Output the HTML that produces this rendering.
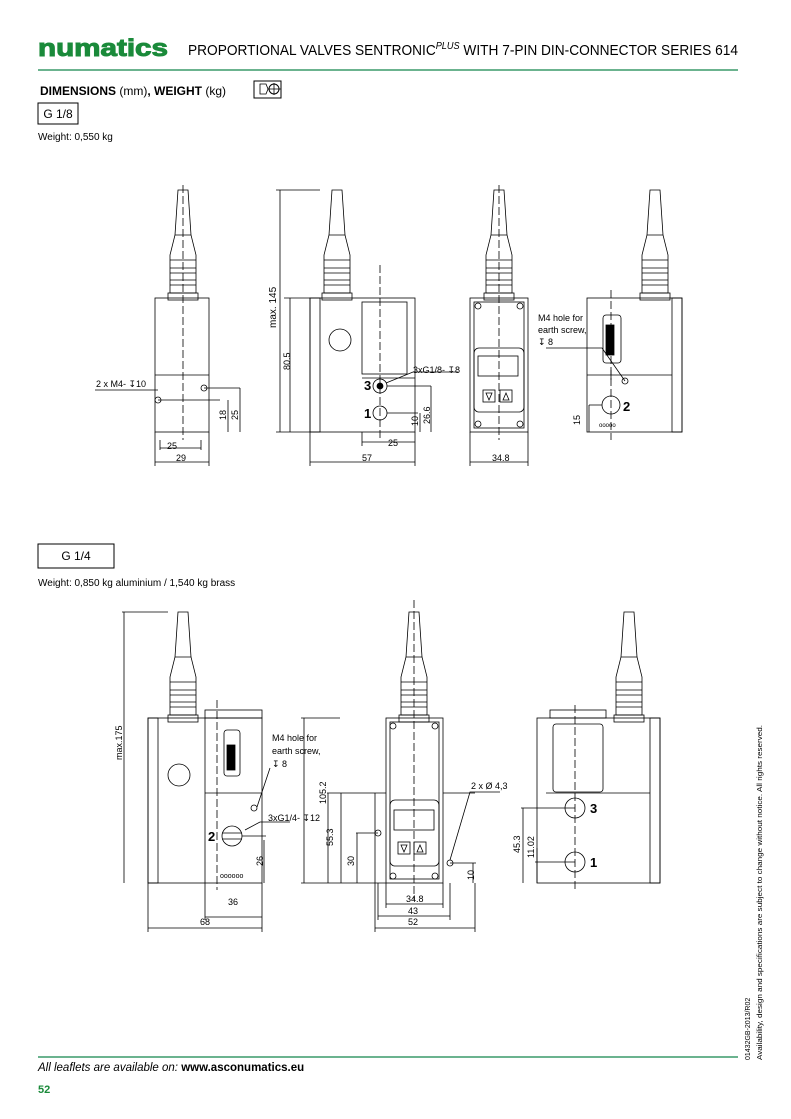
<!DOCTYPE html>
<html><head><meta charset="utf-8"><style>
body{margin:0;background:#fff;width:791px;height:1119px;overflow:hidden;font-family:"Liberation Sans",sans-serif}
svg{position:absolute;left:0;top:0}
text{font-family:"Liberation Sans",sans-serif}
</style></head><body>
<svg width="791" height="1119" viewBox="0 0 791 1119">
<defs>
<g id="con" fill="none" stroke="#000" stroke-width="0.8">
<path d="M-5,0 L5,0 L8,45 L13,65 L13,103 L-13,103 L-13,65 L-8,45 Z"/>
<path d="M-8,45 L8,45 M-13,70 H13 M-13,78 H13 M-13,83 H13 M-13,90 H13 M-13,95 H13"/>
<rect x="-15" y="103" width="30" height="7"/>
</g>
</defs>
<!-- header -->
<text x="38" y="56" font-size="24" font-weight="bold" fill="#1a8a3a" textLength="130" lengthAdjust="spacingAndGlyphs" stroke="#1a8a3a" stroke-width="1">numatics</text>
<text x="188" y="55" font-size="15" fill="#000" textLength="550" lengthAdjust="spacingAndGlyphs">PROPORTIONAL VALVES SENTRONIC<tspan font-size="10" font-style="italic" dy="-6">PLUS</tspan><tspan dy="6"> WITH 7-PIN DIN-CONNECTOR SERIES 614</tspan></text>
<line x1="38" y1="70" x2="738" y2="70" stroke="#3a9a6a" stroke-width="1.5"/>
<text x="40" y="95" font-size="12"><tspan font-weight="bold">DIMENSIONS</tspan> (mm)<tspan font-weight="bold">, WEIGHT</tspan> (kg)</text>
<rect x="254" y="81" width="27" height="17" fill="none" stroke="#000"/>
<circle cx="274" cy="89" r="5" fill="none" stroke="#000"/><path d="M260,84 H266 L268,89 L266,94 H260 Z M268,89 H281 M274,83 V95" fill="none" stroke="#000" stroke-width="0.8"/>
<rect x="38" y="103" width="40" height="21" fill="none" stroke="#000"/>
<text x="58" y="118" font-size="12" text-anchor="middle">G 1/8</text>
<text x="38" y="140" font-size="10">Weight: 0,550 kg</text>

<g fill="none" stroke="#000" stroke-width="0.8">
<use href="#con" x="183" y="190"/>
<rect x="155" y="298" width="54" height="134"/><line x1="155" y1="375" x2="209" y2="375"/>
<circle cx="158" cy="400" r="3"/><circle cx="204" cy="388" r="3"/>
<line x1="183" y1="185" x2="183" y2="440" stroke-dasharray="8,3"/>
<path d="M95,390 H158 M158,400 H220 M204,388 H240 M228,400 V432 M240,388 V432 M160,440 V450 M201,440 V450 M160,448 H201 M155,432 V466 M209,432 V466 M155,462 H209"/>
<use href="#con" x="337" y="190"/>
<rect x="310" y="298" width="105" height="134"/><rect x="310" y="298" width="10" height="134"/>
<rect x="362" y="302" width="45" height="72"/><line x1="362" y1="378" x2="415" y2="378"/>
<circle cx="340" cy="340" r="11"/><circle cx="380" cy="386" r="7"/><circle cx="380" cy="386" r="3" fill="#000"/><circle cx="380" cy="413" r="7"/>
<line x1="380" y1="265" x2="380" y2="440" stroke-dasharray="8,3"/>
<path d="M276,190 H320 M280,190 V432 M290,298 V432 M284,298 H310 M387,413 H418 M387,386 H431 M420,413 V432 M431,386 V432 M276,432 H310 M362,432 V446 M415,432 V466 M310,432 V466 M362,442 H415 M310,462 H415 M386,383 L413,372 H458"/>
<use href="#con" x="499" y="190"/>
<rect x="470" y="298" width="58" height="134"/><rect x="474" y="302" width="50" height="126"/>
<circle cx="478" cy="306" r="3"/><circle cx="520" cy="306" r="3"/><circle cx="478" cy="424" r="3"/><circle cx="520" cy="424" r="3"/>
<rect x="474" y="348" width="50" height="64" rx="5"/><rect x="478" y="356" width="40" height="20"/>
<rect x="483" y="390" width="12" height="12"/><rect x="500" y="390" width="12" height="12"/>
<path d="M486,393 H492 L489,400 Z M503,400 H509 L506,393 Z"/>
<line x1="499" y1="185" x2="499" y2="440" stroke-dasharray="8,3"/>
<path d="M470,432 V466 M528,432 V466 M470,462 H528"/>
<use href="#con" x="655" y="190"/>
<rect x="587" y="298" width="95" height="134"/><rect x="672" y="298" width="10" height="134"/>
<rect x="603" y="315" width="18" height="48" rx="3"/><rect x="606" y="325" width="8" height="30" fill="#000"/>
<line x1="587" y1="375" x2="672" y2="375"/>
<circle cx="625" cy="381" r="3"/><circle cx="611" cy="405" r="9"/>
<line x1="611" y1="290" x2="611" y2="440" stroke-dasharray="8,3"/>
<path d="M546,348 H602 L625,381 M589,405 H602 M589,405 V432 M611,370 V380"/>
<use href="#con" x="183" y="612"/>
<rect x="148" y="718" width="114" height="165"/><rect x="148" y="718" width="10" height="165"/><line x1="205" y1="718" x2="205" y2="883"/><line x1="205" y1="793" x2="262" y2="793"/>
<rect x="205" y="710" width="57" height="8"/>
<circle cx="179" cy="775" r="11"/><rect x="224" y="730" width="16" height="46" rx="3"/><rect x="227" y="745" width="8" height="25" fill="#000"/>
<circle cx="254" cy="808" r="3"/><circle cx="232" cy="836" r="10"/><path d="M222,833 H242 M222,839 H242"/>
<line x1="217" y1="700" x2="217" y2="890" stroke-dasharray="8,3"/>
<path d="M122,612 H168 M124,612 V883 M242,836 H266 M264,840 V883 M205,883 V920 M262,883 V932 M148,883 V932 M205,917 H262 M148,928 H262 M257,807 L270,768 M245,830 L260,822 H290"/>
<use href="#con" x="414" y="612"/>
<rect x="386" y="718" width="57" height="165"/><rect x="390" y="722" width="49" height="157"/>
<circle cx="393" cy="726" r="3"/><circle cx="435" cy="726" r="3"/><circle cx="393" cy="876" r="3"/><circle cx="435" cy="876" r="3"/>
<path d="M341,793 H386 M443,793 H475 M341,793 V883 M375,793 V883"/>
<rect x="390" y="800" width="49" height="66" rx="5"/><rect x="394" y="810" width="40" height="20"/>
<rect x="398" y="842" width="12" height="12"/><rect x="414" y="842" width="12" height="12"/>
<path d="M401,845 H407 L404,852 Z M417,852 H423 L420,845 Z"/>
<circle cx="378" cy="833" r="3"/><circle cx="450" cy="863" r="3"/>
<line x1="414" y1="600" x2="414" y2="900" stroke-dasharray="8,3"/>
<path d="M301,718 H340 M304,718 V883 M301,883 H386 M327,793 H341 M328,793 V883 M356,833 H378 M357,833 V883 M450,863 H476 M473,863 V883 M386,883 V908 M443,883 V908 M386,904 H443 M378,883 V920 M450,883 V920 M378,916 H450 M375,883 V932 M475,883 V932 M375,928 H475 M450,860 L470,792 H500"/>
<use href="#con" x="629" y="612"/>
<rect x="537" y="718" width="123" height="165"/><rect x="650" y="718" width="10" height="165"/><rect x="550" y="710" width="56" height="8"/>
<rect x="553" y="724" width="50" height="68" rx="3"/><line x1="546" y1="793" x2="650" y2="793"/>
<circle cx="575" cy="808" r="10"/><circle cx="575" cy="862" r="10"/>
<line x1="575" y1="705" x2="575" y2="890" stroke-dasharray="8,3"/>
<path d="M521,808 H575 M523,808 V883 M535,862 H575 M537,848 V883"/>
</g>
<g font-size="9" fill="#000">
<text x="96" y="387">2 x M4- ↧10</text>
<text x="172" y="449" text-anchor="middle">25</text><text x="181" y="461" text-anchor="middle">29</text>
<text transform="translate(226,420) rotate(-90)">18</text><text transform="translate(238,420) rotate(-90)">25</text>
<text transform="translate(276,328) rotate(-90)" font-size="10">max. 145</text>
<text transform="translate(290,370) rotate(-90)">80.5</text>
<text x="413" y="373">3xG1/8- ↧8</text>
<text x="388" y="446">25</text><text x="362" y="461">57</text>
<text transform="translate(418,426) rotate(-90)">10</text><text transform="translate(430,424) rotate(-90)">26.6</text>
<text x="492" y="461">34.8</text>
<text x="538" y="321">M4 hole for</text><text x="538" y="333">earth screw,</text><text x="538" y="345">↧ 8</text>
<text transform="translate(580,425) rotate(-90)">15</text>
<text x="599" y="427" font-size="6">ooooo</text>
<text x="364" y="390" font-size="13" font-weight="bold">3</text><text x="364" y="418" font-size="13" font-weight="bold">1</text>
<text x="623" y="411" font-size="13" font-weight="bold">2</text>
</g>
<rect x="38" y="544" width="76" height="24" fill="none" stroke="#000"/>
<text x="76" y="560" font-size="12" text-anchor="middle">G 1/4</text>
<text x="38" y="586" font-size="10">Weight: 0,850 kg aluminium / 1,540 kg brass</text>
<g font-size="9">
<text transform="translate(122,760) rotate(-90)">max.175</text>
<text x="272" y="741">M4 hole for</text><text x="272" y="754">earth screw,</text><text x="272" y="767">↧ 8</text>
<text x="268" y="821">3xG1/4- ↧12</text>
<text x="208" y="841" font-size="13" font-weight="bold">2</text>
<text transform="translate(263,866) rotate(-90)">26</text>
<text x="228" y="905">36</text><text x="200" y="925">68</text>
<text transform="translate(326,804) rotate(-90)">105.2</text>
<text transform="translate(333,846) rotate(-90)">55.3</text>
<text transform="translate(354,866) rotate(-90)">30</text>
<text x="471" y="789">2 x Ø 4,3</text>
<text transform="translate(474,880) rotate(-90)">10</text>
<text x="406" y="902">34.8</text><text x="408" y="914">43</text><text x="408" y="925">52</text>
<text transform="translate(520,853) rotate(-90)">45.3</text><text transform="translate(534,858) rotate(-90)">11.02</text>
<text x="590" y="813" font-size="13" font-weight="bold">3</text><text x="590" y="867" font-size="13" font-weight="bold">1</text>
<text x="220" y="878" font-size="7">oooooo</text>
</g>
<text transform="translate(750,1060) rotate(-90)" font-size="7">01432GB-2013/R02</text>
<text transform="translate(762,1060) rotate(-90)" font-size="7.5" textLength="335" lengthAdjust="spacingAndGlyphs">Availability, design and specifications are subject to change without notice. All rights reserved.</text>
<line x1="38" y1="1057" x2="738" y2="1057" stroke="#3a9a6a" stroke-width="1.5"/>
<text x="38" y="1071" font-size="11.5" font-style="italic">All leaflets are available on: <tspan font-weight="bold" font-style="normal">www.asconumatics.eu</tspan></text>
<text x="38" y="1093" font-size="11" font-weight="bold" fill="#1a8a3a">52</text>
</svg>
</body></html>
